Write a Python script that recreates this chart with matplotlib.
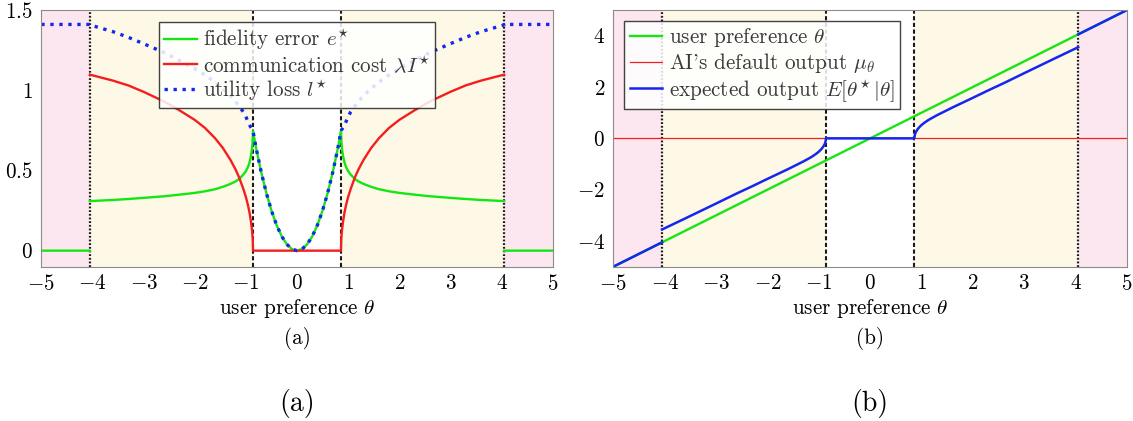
import numpy as np
import matplotlib
matplotlib.use("Agg")
import matplotlib.pyplot as plt

plt.rcParams.update({
    "font.family": ["cmr10"],
    "mathtext.fontset": "cm",
    "axes.formatter.use_mathtext": True,
})

# ---------------------------------------------------------------- data
# Region boundaries on the preference axis
no_comm_edge = 0.86      # |theta| below this: no communication
full_comm_edge = 4.05    # |theta| above this: full specification
x_range = [-5.0, 5.0]

# No-communication zone (theta >= 0 half; curves are symmetric in theta)
core_theta = [0.0, 0.1, 0.2, 0.3, 0.4, 0.5, 0.6, 0.7, 0.8, 0.86]
core_fidelity = [0.0, 0.01, 0.04, 0.09, 0.16, 0.25, 0.36, 0.49, 0.64, 0.745]
core_cost = [0.0, 0.0, 0.0, 0.0, 0.0, 0.0, 0.0, 0.0, 0.0, 0.0]
core_loss = [0.0, 0.01, 0.04, 0.09, 0.16, 0.25, 0.36, 0.49, 0.64, 0.745]
core_output = [0.0, 0.0, 0.0, 0.0, 0.0, 0.0, 0.0, 0.0, 0.0, 0.0]

# Partial-communication zone (theta >= 0 half)
comm_theta = [0.86, 0.865, 0.87, 0.88, 0.90, 0.93, 0.96, 1.00, 1.05, 1.13, 1.20,
              1.30, 1.45, 1.60, 1.80, 2.00, 2.30, 2.60, 3.00, 3.30, 3.60, 4.05]
comm_fidelity = [0.745, 0.70, 0.672, 0.635, 0.59, 0.548, 0.52, 0.495, 0.474, 0.447, 0.432,
                 0.416, 0.398, 0.383, 0.370, 0.360, 0.349, 0.339, 0.329, 0.322, 0.316, 0.309]
comm_cost = [0.0, 0.065, 0.09, 0.13, 0.18, 0.24, 0.285, 0.335, 0.385, 0.455, 0.505,
             0.565, 0.64, 0.70, 0.765, 0.815, 0.875, 0.93, 0.99, 1.03, 1.06, 1.097]
comm_loss = [0.745, 0.75, 0.752, 0.757, 0.767, 0.785, 0.805, 0.835, 0.865, 0.90, 0.93,
             0.965, 1.01, 1.05, 1.095, 1.135, 1.185, 1.235, 1.29, 1.33, 1.365, 1.407]
comm_output = [0.0, 0.08, 0.13, 0.20, 0.28, 0.37, 0.44, 0.52, 0.60, 0.71, 0.79,
               0.90, 1.05, 1.20, 1.39, 1.58, 1.87, 2.15, 2.54, 2.83, 3.12, 3.55]

# Full-specification zone (theta >= 0 half)
outer_theta = [4.05, 5.0]
outer_fidelity = [0.0, 0.0]
outer_loss = [1.41, 1.41]
outer_output = [4.05, 5.0]

# Panel (b) reference lines
pref_theta = [-5.0, 5.0]
pref_value = [-5.0, 5.0]
default_value = [0.0, 0.0]

xticks = [-5, -4, -3, -2, -1, 0, 1, 2, 3, 4, 5]
yticks_a = [0, 0.5, 1, 1.5]
yticks_b = [-4, -2, 0, 2, 4]


def even(t, v):
    """Mirror a theta >= 0 half-curve that is even in theta."""
    t = np.asarray(t, float); v = np.asarray(v, float)
    return np.r_[-t[::-1], t[1:]], np.r_[v[::-1], v[1:]]


def odd(t, v):
    t = np.asarray(t, float); v = np.asarray(v, float)
    return np.r_[-t[::-1], t[1:]], np.r_[-v[::-1], v[1:]]


half_t = core_theta + comm_theta[1:]
th_in, fid_in = even(half_t, core_fidelity + comm_fidelity[1:])
_, cost_in = even(half_t, core_cost + comm_cost[1:])
_, loss_in = even(half_t, core_loss + comm_loss[1:])
_, out_in = odd(half_t, core_output + comm_output[1:])

out_t = np.asarray(outer_theta)
th_loss = np.r_[-out_t[::-1], th_in, out_t]
loss_all = np.r_[outer_loss[::-1], loss_in, outer_loss]

nan = [np.nan]
th_fid = np.r_[-out_t[::-1], nan, th_in, nan, out_t]
fid_all = np.r_[outer_fidelity[::-1], nan, fid_in, nan, outer_fidelity]
th_out = np.r_[-out_t[::-1], nan, th_in, nan, out_t]
out_all = np.r_[-np.asarray(outer_output)[::-1], nan, out_in, nan, outer_output]

# ---------------------------------------------------------------- styling
GREEN = "#14e614"
RED = "#f51e1e"
BLUE = "#1426f0"
PINK = "#fce6ef"
CREAM = "#fdf9e6"
FS = 15.2

fig = plt.figure(figsize=(11.33, 4.21), dpi=100)
W, H = 1133.0, 421.0
ax_a = fig.add_axes([41.3 / W, (H - 266.7) / H, 511.4 / W, 256.7 / H])
ax_b = fig.add_axes([613.3 / W, (H - 266.7) / H, 513.7 / W, 256.7 / H])


def decorate(ax, ylim, yticks):
    ax.set_xlim(*x_range)
    ax.set_ylim(*ylim)
    lo, hi = x_range
    ax.axvspan(lo, -full_comm_edge, color=PINK, lw=0, zorder=0)
    ax.axvspan(full_comm_edge, hi, color=PINK, lw=0, zorder=0)
    ax.axvspan(-full_comm_edge, -no_comm_edge, color=CREAM, lw=0, zorder=0)
    ax.axvspan(no_comm_edge, full_comm_edge, color=CREAM, lw=0, zorder=0)
    for x in (-full_comm_edge, full_comm_edge):
        ax.axvline(x, color="#1a1a1a", lw=1.6, ls=(0, (0.8, 0.85)), zorder=1.5)
    for x in (-no_comm_edge, no_comm_edge):
        ax.axvline(x, color="#1a1a1a", lw=1.5, ls=(0, (2.0, 1.2)), zorder=1.5)
    ax.set_xticks(xticks)
    ax.set_xticklabels([f"${v:g}$" for v in xticks])
    ax.set_yticks(yticks)
    ax.set_yticklabels([f"${v:g}$" for v in yticks])
    ax.tick_params(length=0, labelsize=FS)
    ax.tick_params(axis="x", pad=5)
    ax.tick_params(axis="y", pad=6)
    for s in ax.spines.values():
        s.set_color("#8c8c8c")
        s.set_linewidth(0.8)
    ax.set_xlabel(r"user preference $\theta$", fontsize=FS, va="center")
    ax.xaxis.set_label_coords(0.5, (266.7 - 309) / 256.7)


def legend(ax, **kw):
    leg = ax.legend(fontsize=FS, frameon=True, fancybox=False, framealpha=0.85,
                    edgecolor="#222222", handlelength=1.55, handletextpad=0.3,
                    borderpad=0.25, labelspacing=0.08, borderaxespad=0, **kw)
    leg.get_frame().set_linewidth(1.0)
    for t in leg.get_texts():
        t.set_color("#3a3a3a")
    return leg


# ---- panel (a): fidelity error, communication cost, utility loss
decorate(ax_a, (-0.1, 1.5), yticks_a)
ax_a.plot(th_fid, fid_all, color=GREEN, lw=1.7, zorder=2,
          label=r"fidelity error $e^{\!\star}$")
ax_a.plot(th_in, cost_in, color=RED, lw=1.7, zorder=2.1,
          label=r"communication cost $\lambda I^{\!\star}$")
ax_a.plot(th_loss, loss_all, color=BLUE, lw=2.4, ls=(0, (1, 1.7)), zorder=2.2,
          label=r"utility loss $l^{\!\star}$")
legend(ax_a, loc="upper center", bbox_to_anchor=(0.5, 1 - 12 / 256.7))

# ---- panel (b): expected output versus preference
decorate(ax_b, (-5, 5), yticks_b)
ax_b.plot(pref_theta, pref_value, color=GREEN, lw=1.7, zorder=2, label=r"user preference $\theta$")
ax_b.plot(pref_theta, default_value, color=RED, lw=0.9, zorder=2.1,
          label=r"AI's default output $\mu_\theta$")
ax_b.plot(th_out, out_all, color=BLUE, lw=1.8, zorder=2.2,
          label=r"expected output $E[\theta^{\!\star}|\theta]$")
legend(ax_b, loc="upper left", bbox_to_anchor=(11 / 513.7, 1 - 11 / 256.7))

# ---- sub-captions
for ax, tag in ((ax_a, "(a)"), (ax_b, "(b)")):
    ax.text(0.5, (266.7 - 339) / 256.7, tag, transform=ax.transAxes,
            ha="center", va="center", fontsize=FS)
    ax.text(0.5, (266.7 - 404) / 256.7, tag, transform=ax.transAxes,
            ha="center", va="center", fontsize=20)

fig.savefig("out.png", dpi=100)
